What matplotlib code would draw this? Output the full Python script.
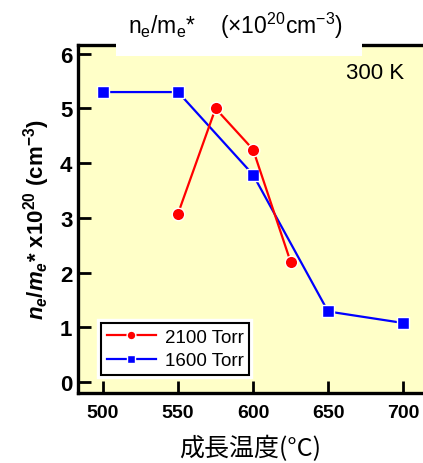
import matplotlib
matplotlib.use("Agg")
import matplotlib.pyplot as plt
from matplotlib.patches import Rectangle
import matplotlib.patheffects as pe

plt.rcParams['font.family'] = ['Liberation Sans', 'Noto Sans CJK JP', 'DejaVu Sans']
plt.rcParams['mathtext.fontset'] = 'custom'
plt.rcParams['mathtext.rm'] = 'Liberation Sans'
plt.rcParams['mathtext.it'] = 'Liberation Sans:italic:bold'
plt.rcParams['mathtext.bf'] = 'Liberation Sans:bold'

# Data
temp_2100 = [550, 575, 600, 625]
val_2100 = [3.08, 5.0, 4.25, 2.20]
temp_1600 = [500, 550, 600, 650, 700]
val_1600 = [5.30, 5.30, 3.79, 1.29, 1.08]
x_ticks = [500, 550, 600, 650, 700]
y_ticks = [0, 1, 2, 3, 4, 5, 6]
label_2100 = '2100 Torr'
label_1600 = '1600 Torr'

W, H = 423, 464
fig = plt.figure(figsize=(W / 100, H / 100), dpi=100)
ax = fig.add_axes([78 / W, (H - 394) / H, (423 - 78) / W, (394 - 46) / H])
ax.set_facecolor('#FFFFC8')

ax.plot(temp_2100, val_2100, '-o', color='#FF0000', lw=1.6, ms=9,
        mec='white', mew=1.0, label=label_2100, zorder=4)
ax.plot(temp_1600, val_1600, '-s', color='#0000FF', lw=1.6, ms=9,
        mec='white', mew=1.0, label=label_1600, zorder=3)

ax.set_xlim(483.3, 713.3)
ax.set_ylim(-0.2, 6.16)
ax.set_xticks(x_ticks)
ax.set_yticks(y_ticks)
ax.tick_params(direction='in', width=2, length=9, top=False, right=False)
ax.tick_params(axis='x', labelsize=14, pad=8)
ax.tick_params(axis='y', labelsize=16, pad=4)
for lab in ax.get_xticklabels() + ax.get_yticklabels():
    lab.set_fontweight('bold')
for s in ['left', 'bottom', 'top']:
    ax.spines[s].set_linewidth(2.4)
ax.spines['right'].set_visible(False)

# white box over the top spine under the title
ax.add_patch(Rectangle((0.110, 0.968), 0.713, 0.05, transform=ax.transAxes,
                       facecolor='white', edgecolor='none', clip_on=False, zorder=5))

fig.text(235 / W, 1 - 26 / H, r'n$_\mathrm{e}$/m$_\mathrm{e}$*    (×10$^{20}$cm$^{-3}$)',
         ha='center', va='center', fontsize=16.5)

ax.text(0.945, 0.92, '300 K', transform=ax.transAxes, ha='right', va='center', fontsize=16)

ax.set_xlabel('成長温度(°C)', fontsize=18, family=['Noto Sans CJK JP', 'DejaVu Sans'], labelpad=10)
ax.set_ylabel(r'$\mathit{n}_\mathit{e}$/$\mathit{m}_\mathit{e}$* x10$^{\mathbf{20}}$ (cm$^{\mathbf{-3}}$)',
              fontsize=16, fontweight='bold', labelpad=6)

leg = ax.legend(loc='lower left', bbox_to_anchor=(0.04, 0.025), fontsize=13.5,
                frameon=True, fancybox=False, edgecolor='black', framealpha=1,
                markerscale=0.7, handlelength=2.6, borderpad=0.3, labelspacing=0.35,
                handletextpad=0.5)
fr = leg.get_frame()
fr.set_linewidth(1.5)
fr.set_path_effects([pe.withStroke(linewidth=6, foreground='white')])

fig.savefig('out.png', dpi=100)
